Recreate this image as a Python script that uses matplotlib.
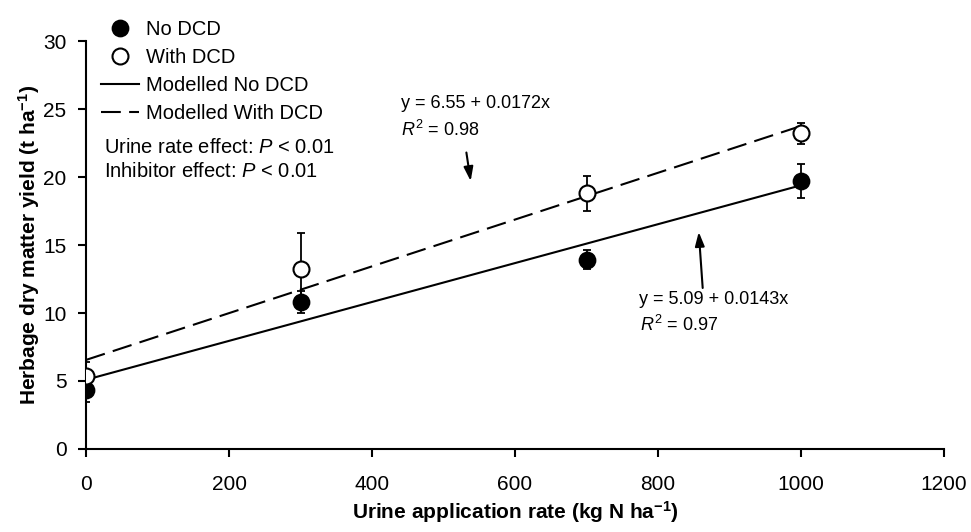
import matplotlib
matplotlib.use("Agg")
import matplotlib.pyplot as plt

# ---- data ----
urine_rate = [0, 300, 700, 1000]
yield_no_dcd = [4.35, 10.8, 13.9, 19.7]
err_no_dcd = [0.9, 0.8, 0.7, 1.25]
yield_with_dcd = [5.4, 13.2, 18.8, 23.2]
err_with_dcd = [1.0, 2.7, 1.3, 0.8]

model_x = [0, 1000]
model_no_dcd = [5.09, 19.39]
model_with_dcd = [6.55, 23.75]

x_ticks = [0, 200, 400, 600, 800, 1000, 1200]
y_ticks = [0, 5, 10, 15, 20, 25, 30]

plt.rcParams['font.family'] = ['Liberation Sans', 'DejaVu Sans']
plt.rcParams['mathtext.fontset'] = 'custom'
plt.rcParams['mathtext.rm'] = 'Liberation Sans'
plt.rcParams['mathtext.it'] = 'Liberation Sans:italic'
plt.rcParams['mathtext.bf'] = 'Liberation Sans:bold'

fig = plt.figure(figsize=(9.71, 5.32), dpi=100)
ax = fig.add_axes([86/971, 1-449/532, (944-86)/971, (449-41)/532])

ms = 11.5
# model lines
l_no, = ax.plot(model_x, model_no_dcd, color='k', lw=1.5, label='Modelled No DCD')
l_with, = ax.plot(model_x, model_with_dcd, color='k', lw=1.5, label='Modelled With DCD')
l_with.set_dashes((9.5, 4))

# error bars
ax.errorbar(urine_rate, yield_no_dcd, yerr=err_no_dcd, fmt='none', ecolor='k',
            elinewidth=1.3, capsize=3, capthick=1.3, zorder=3)
ax.errorbar(urine_rate, yield_with_dcd, yerr=err_with_dcd, fmt='none', ecolor='k',
            elinewidth=1.3, capsize=3, capthick=1.3, zorder=3)
p_no, = ax.plot(urine_rate, yield_no_dcd, 'o', ms=ms, mfc='k', mec='k', mew=1.3,
                label='No DCD', zorder=4)
p_with, = ax.plot(urine_rate, yield_with_dcd, 'o', ms=ms, mfc='white', mec='k', mew=1.5,
                  label='With DCD', zorder=4)

ax.set_xlim(0, 1200)
ax.set_ylim(0, 30)
ax.set_xticks(x_ticks)
ax.set_yticks(y_ticks)
ax.spines['top'].set_visible(False)
ax.spines['right'].set_visible(False)
for s in ('left', 'bottom'):
    ax.spines[s].set_linewidth(1.5)
ax.tick_params(axis='both', direction='out', length=6, width=1.5, labelsize=15)
ax.tick_params(axis='x', pad=13)
ax.tick_params(axis='y', pad=8)

ax.set_xlabel('Urine application rate (kg N ha$^{\\mathbf{-1}}$)', fontsize=15, fontweight='bold')
ax.set_ylabel('Herbage dry matter yield (t ha$^{\\mathbf{-1}}$)', fontsize=15, fontweight='bold')
ax.xaxis.set_label_coords(0.5, (449-499)/408)
ax.yaxis.set_label_coords((42-86)/858, 0.5)

leg = ax.legend(handles=[p_no, p_with, l_no, l_with], loc='upper left',
                bbox_to_anchor=(101/971, 1-20/532), bbox_transform=fig.transFigure,
                frameon=False, fontsize=14.5, borderpad=0, borderaxespad=0,
                handlelength=1.9, handletextpad=0.35, labelspacing=0.45)

fig.text(104/971, 1-147/532, 'Urine rate effect: $P$ < 0.01', fontsize=14.5,
         va='center', ha='left')
fig.text(104/971, 1-172/532, 'Inhibitor effect: $P$ < 0.01', fontsize=14.5,
         va='center', ha='left')

# equation annotations
ax.text(440, 25.4, 'y = 6.55 + 0.0172x', fontsize=13, va='center', ha='left')
ax.text(441, 23.45, '$R^{2}$ = 0.98', fontsize=13, va='center', ha='left')
ax.annotate('', xy=(538, 19.7), xytext=(532, 21.8),
            arrowprops=dict(arrowstyle='-|>,head_length=0.6,head_width=0.2', color='k',
                            lw=1.5, mutation_scale=14, shrinkA=0, shrinkB=0))

ax.text(774, 10.96, 'y = 5.09 + 0.0143x', fontsize=13, va='center', ha='left')
ax.text(775, 9.1, '$R^{2}$ = 0.97', fontsize=13, va='center', ha='left')
ax.annotate('', xy=(857, 15.96), xytext=(862.5, 11.84),
            arrowprops=dict(arrowstyle='-|>,head_length=0.6,head_width=0.2', color='k',
                            lw=1.5, mutation_scale=14, shrinkA=0, shrinkB=0))

fig.savefig('out.png', dpi=100)
